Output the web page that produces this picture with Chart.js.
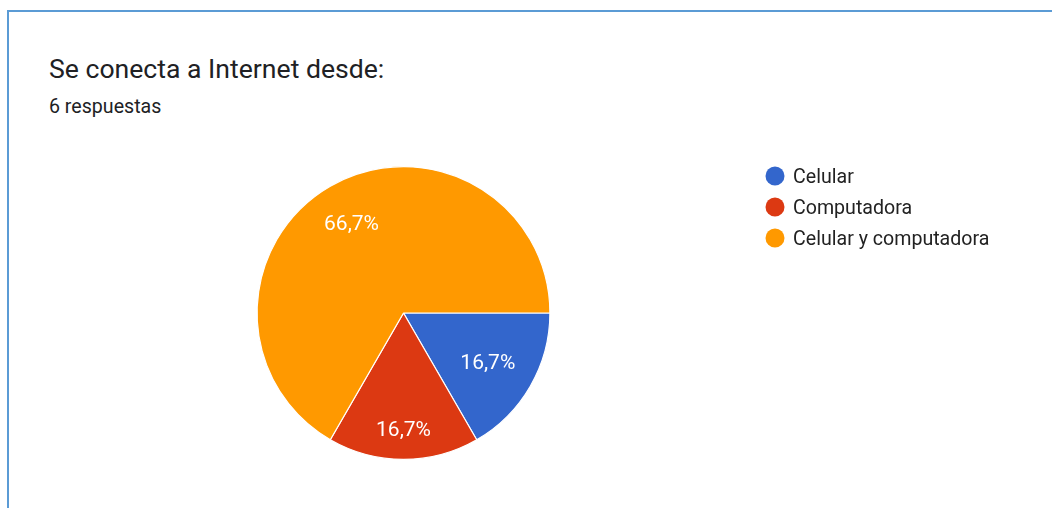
<!DOCTYPE html>
<html>
<head>
<meta charset="utf-8">
<script src="https://cdn.jsdelivr.net/npm/chart.js@4.4.1/dist/chart.umd.min.js"></script>
<style>
  html, body { margin: 0; padding: 0; background: #ffffff; }
  body { width: 1052px; height: 508px; position: relative; overflow: hidden; font-family: Roboto, Arial, sans-serif; }
  #frame { position: absolute; left: 7px; top: 10px; right: -5px; bottom: -5px; border-left: 2px solid #5b9bd5; border-top: 2px solid #5b9bd5; }
  #title { position: absolute; left: 49px; top: 52.5px; font-size: 26.6px; line-height: 1.171; color: #202124; white-space: nowrap; }
  #sub { position: absolute; left: 49px; top: 96px; font-size: 19.6px; line-height: 1.171; color: #202124; white-space: nowrap; }
  #wrap { position: absolute; left: 0; top: 0; width: 1052px; height: 508px; }
</style>
</head>
<body>
<div id="frame"></div>
<div id="title">Se conecta a Internet desde:</div>
<div id="sub">6 respuestas</div>
<div id="wrap"><canvas id="c" width="1052" height="508"></canvas></div>
<script>
const categories = ["Celular", "Computadora", "Celular y computadora"];
const counts = [1, 1, 4];
const percentLabels = ["16,7%", "16,7%", "66,7%"];
const colors = ["#3366cc", "#dc3912", "#ff9900"];

const sliceLabels = {
  id: 'sliceLabels',
  afterDatasetsDraw(chart, args, opts) {
    const ctx = chart.ctx;
    const meta = chart.getDatasetMeta(0);
    ctx.save();
    ctx.fillStyle = '#ffffff';
    ctx.font = opts.font;
    ctx.textAlign = 'center';
    ctx.textBaseline = 'alphabetic';
    meta.data.forEach((arc, i) => {
      const p = arc.getProps(['x', 'y', 'startAngle', 'endAngle', 'outerRadius'], true);
      const mid = (p.startAngle + p.endAngle) / 2;
      const r = p.outerRadius * opts.radiusFraction[i];
      ctx.fillText(percentLabels[i], p.x + Math.cos(mid) * r, p.y + Math.sin(mid) * r + opts.baselineShift);
    });
    ctx.restore();
  }
};

const sideLegend = {
  id: 'sideLegend',
  afterDraw(chart, args, opts) {
    const ctx = chart.ctx;
    ctx.save();
    ctx.font = opts.font;
    ctx.textBaseline = 'alphabetic';
    ctx.textAlign = 'left';
    chart.data.labels.forEach((lab, i) => {
      const y = opts.y + i * opts.rowGap;
      ctx.fillStyle = chart.data.datasets[0].backgroundColor[i];
      ctx.beginPath();
      ctx.arc(opts.x, y, opts.dot, 0, Math.PI * 2);
      ctx.fill();
      ctx.fillStyle = opts.color;
      ctx.fillText(lab, opts.x + opts.textGap, y + opts.baselineShift);
    });
    ctx.restore();
  }
};

new Chart(document.getElementById('c'), {
  type: 'pie',
  data: {
    labels: categories,
    datasets: [{
      data: counts,
      backgroundColor: colors,
      borderColor: '#ffffff',
      borderWidth: 1.2
    }]
  },
  options: {
    responsive: false,
    animation: false,
    rotation: 90,
    layout: { padding: { left: 256, right: 501, top: 166, bottom: 48 } },
    plugins: {
      legend: { display: false },
      tooltip: { enabled: false },
      sliceLabels: { font: '21px Roboto', radiusFraction: [0.665, 0.79, 0.71], baselineShift: 7.5 },
      sideLegend: { x: 775, y: 176, rowGap: 31, dot: 9.5, textGap: 18, font: '19.6px Roboto', color: '#222222', baselineShift: 7.2 }
    }
  },
  plugins: [sliceLabels, sideLegend]
});
</script>
</body>
</html>
